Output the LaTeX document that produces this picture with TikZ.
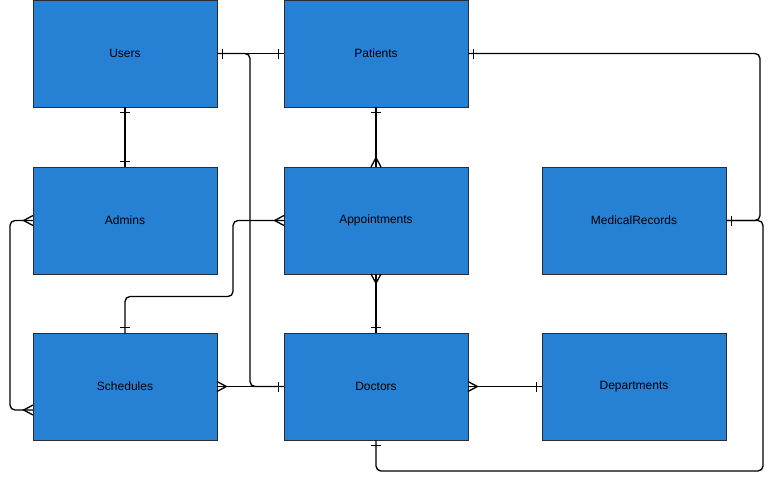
\documentclass[tikz,border=0pt]{standalone}
\usepackage{fontspec}
\setmainfont{Liberation Sans}
\usetikzlibrary{arrows.meta,calc}

\definecolor{entityfill}{RGB}{38,128,212}
\definecolor{entityline}{RGB}{40,44,52}

% crow's foot ends
\pgfdeclarearrow{
  name = ERone,
  setup code = {
    \pgfarrowssettipend{0pt}
    \pgfarrowssetlineend{0pt}
    \pgfarrowssetbackend{-4pt}
    \pgfarrowshullpoint{0pt}{3.75pt}
    \pgfarrowshullpoint{0pt}{-3.75pt}
    \pgfarrowshullpoint{-4pt}{3.75pt}
    \pgfarrowshullpoint{-4pt}{-3.75pt}
  },
  drawing code = {
    \pgfpathmoveto{\pgfqpoint{-4pt}{-3.75pt}}
    \pgfpathlineto{\pgfqpoint{-4pt}{3.75pt}}
    \pgfusepathqstroke
  },
}
\pgfdeclarearrow{
  name = ERmany,
  setup code = {
    \pgfarrowssettipend{0pt}
    \pgfarrowssetlineend{0pt}
    \pgfarrowssetbackend{-7pt}
    \pgfarrowshullpoint{0pt}{3.75pt}
    \pgfarrowshullpoint{0pt}{-3.75pt}
    \pgfarrowshullpoint{-7pt}{0pt}
  },
  drawing code = {
    \pgfpathmoveto{\pgfqpoint{0pt}{3.75pt}}
    \pgfpathlineto{\pgfqpoint{-7pt}{0pt}}
    \pgfpathlineto{\pgfqpoint{0pt}{-3.75pt}}
    \pgfusepathqstroke
  },
}

\tikzset{every picture/.style={line width=0.75pt}}
\tikzset{
  entity/.style={draw=entityline, fill=entityfill, line width=0.75pt,
    minimum width=138pt, minimum height=80.25pt, inner sep=0pt, outer sep=0pt,
    font=\fontsize{9}{11}\selectfont, text=black},
  relation/.style={draw=black, line width=1pt, rounded corners=3.75pt}
}

\begin{document}
\begin{tikzpicture}[x=0.75pt,y=0.75pt,yscale=-1,xscale=1]
	\useasboundingbox (0,0) rectangle (777,486);
	
	%Shape: Rectangle [Users]
	\node [entity] (users) at (125,53.5) {Users};
	%Shape: Rectangle [Patients]
	\node [entity] (patients) at (376,53.5) {Patients};
	%Shape: Rectangle [Admins]
	\node [entity] (admins) at (125,220.5) {Admins};
	%Shape: Rectangle [Appointments]
	\node [entity] (appointments) at (376,220.5) {Appointments};
	%Shape: Rectangle [MedicalRecords]
	\node [entity] (medrecords) at (634,220.5) {MedicalRecords};
	%Shape: Rectangle [Schedules]
	\node [entity] (schedules) at (125,386.5) {Schedules};
	%Shape: Rectangle [Doctors]
	\node [entity] (doctors) at (376,386.5) {Doctors};
	%Shape: Rectangle [Departments]
	\node [entity] (departments) at (634,386.5) {Departments};
	
	%Straight Lines [Users - Patients]
	\draw [relation, {ERone}-{ERone}] (users.east) -- (patients.west);
	%Straight Lines [Users - Doctors]
	\draw [relation, {ERone}-{ERone}] (users.east) -- ++(33,0) |- (doctors.west);
	%Straight Lines [Users - Admins]
	\draw [relation, {ERone}-{ERone}] (users.south) -- (admins.north);
	%Straight Lines [Patients - Appointments]
	\draw [relation, {ERone}-{ERmany}] (patients.south) -- (appointments.north);
	%Straight Lines [Appointments - Doctors]
	\draw [relation, {ERmany}-{ERone}] (appointments.south) -- (doctors.north);
	%Straight Lines [Schedules - Doctors]
	\draw [relation, {ERmany}-{ERone}] (schedules.east) -- (doctors.west);
	%Straight Lines [Doctors - Departments]
	\draw [relation, {ERmany}-{ERone}] (doctors.east) -- (departments.west);
	%Straight Lines [Admins - Schedules]
	\draw [relation, {ERmany}-{ERmany}] (admins.west) -- ++(-23,0) |- ($(schedules.west)+(0,23.5)$);
	%Straight Lines [Appointments - Schedules]
	\draw [relation, {ERmany}-{ERone}] (appointments.west) -- ++(-51,0) -- ++(0,76) -| (schedules.north);
	%Straight Lines [Patients - MedicalRecords]
	\draw [relation, {ERone}-{ERone}] (patients.east) -- ++(292,0) |- (medrecords.east);
	%Straight Lines [Doctors - MedicalRecords]
	\draw [relation, {ERone}-{ERone}] (doctors.south) -- ++(0,31) -| ($(medrecords.east)+(37,0)$) -- (medrecords.east);
	
\end{tikzpicture}
\end{document}
